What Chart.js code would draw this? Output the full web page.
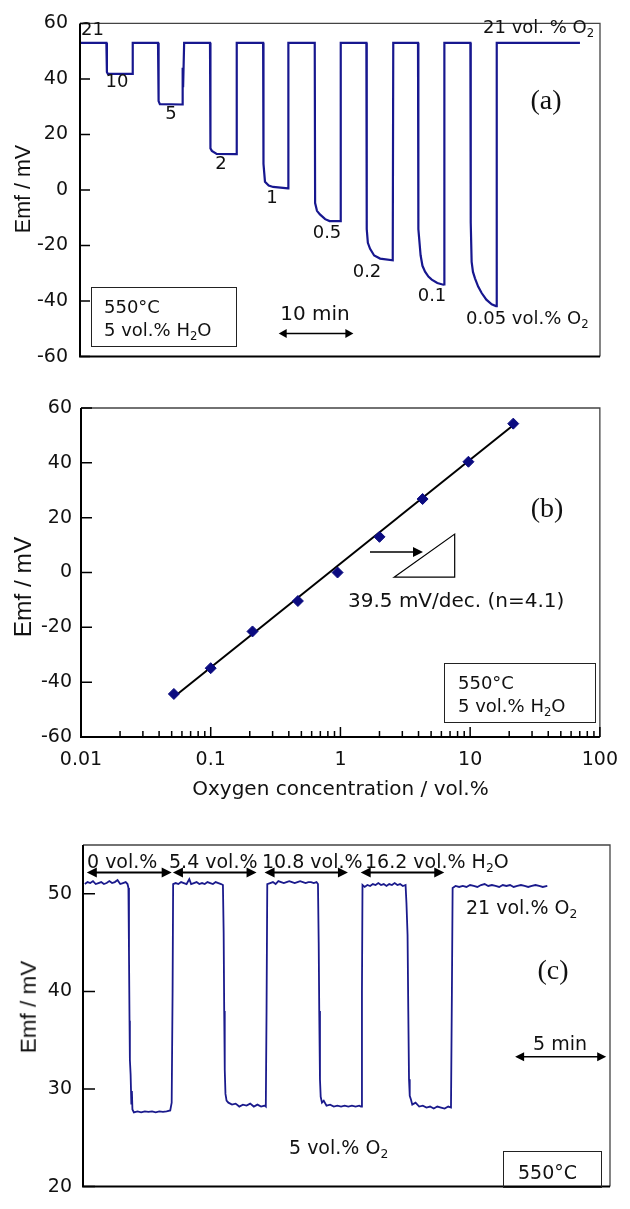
<!DOCTYPE html>
<html lang="en">
<head>
<meta charset="UTF-8">
<title>Emf response of the oxygen sensor</title>
<script src="https://cdn.jsdelivr.net/npm/chart.js"></script>
<style>
  body { margin: 0; background: #fff; }
  #page { position: relative; width: 630px; height: 1209px; overflow: hidden; font-family: 'DejaVu Sans', sans-serif; color: #111; }
  canvas { position: absolute; left: 0; }
  .t { position: absolute; white-space: nowrap; line-height: 1; font-size: 18px; }
  .c { transform: translate(-50%, -50%); }
  .l { transform: translateY(-50%); }
  .ytitle { position: absolute; white-space: nowrap; line-height: 1; font-family: 'Liberation Sans', Arial, sans-serif; transform: translate(-50%, -50%) rotate(-90deg); }
  .tag { font-family: 'Liberation Serif', 'Times New Roman', serif; font-size: 28px; }
  .box { position: absolute; border: 1px solid #222; }
  sub { font-size: 0.65em; position: relative; top: 0.3em; vertical-align: baseline; }
</style>
</head>
<body>
<div id="page">
  <canvas id="chartA" width="630" height="380" style="top:0"></canvas>
  <canvas id="chartB" width="630" height="430" style="top:380px"></canvas>
  <canvas id="chartC" width="630" height="399" style="top:810px"></canvas>

  <!-- panel (a) labels -->
  <div class="ytitle" style="left:24px; top:189px; font-size:21.5px">Emf / mV</div>
  <div class="t l" style="left:81px; top:29px">21</div>
  <div class="t c" style="left:117px; top:81px">10</div>
  <div class="t c" style="left:171px; top:113px">5</div>
  <div class="t c" style="left:221px; top:163px">2</div>
  <div class="t c" style="left:272px; top:197px">1</div>
  <div class="t c" style="left:327px; top:232px">0.5</div>
  <div class="t c" style="left:367px; top:271px">0.2</div>
  <div class="t c" style="left:432px; top:295px">0.1</div>
  <div class="t l" style="left:466px; top:318px">0.05 vol.% O<sub>2</sub></div>
  <div class="t l" style="left:483px; top:27px">21 vol. % O<sub>2</sub></div>
  <div class="t c tag" style="left:546px; top:100px">(a)</div>
  <div class="box" style="left:91px; top:287px; width:144px; height:58px"></div>
  <div class="t l" style="left:104px; top:307px">550°C</div>
  <div class="t l" style="left:104px; top:330px">5 vol.% H<sub>2</sub>O</div>
  <div class="t c" style="left:315px; top:313px; font-size:20px">10 min</div>

  <!-- panel (b) labels -->
  <div class="ytitle" style="left:23px; top:587px; font-size:24.5px">Emf / mV</div>
  <div class="t c tag" style="left:547px; top:508px">(b)</div>
  <div class="t l" style="left:348px; top:600px; font-size:20px">39.5 mV/dec. (n=4.1)</div>
  <div class="box" style="left:444px; top:663px; width:150px; height:58px"></div>
  <div class="t l" style="left:458px; top:683px">550°C</div>
  <div class="t l" style="left:458px; top:706px">5 vol.% H<sub>2</sub>O</div>

  <!-- panel (c) labels -->
  <div class="ytitle" style="left:29px; top:1007px; font-size:22.5px">Emf / mV</div>
  <div class="t l" style="left:87px; top:861px; font-size:19px">0 vol.%</div>
  <div class="t l" style="left:169px; top:861px; font-size:19px">5.4 vol.%</div>
  <div class="t l" style="left:262px; top:861px; font-size:19px">10.8 vol.%</div>
  <div class="t l" style="left:365px; top:861px; font-size:19px">16.2 vol.% H<sub>2</sub>O</div>
  <div class="t l" style="left:466px; top:907px; font-size:19px">21 vol.% O<sub>2</sub></div>
  <div class="t c tag" style="left:553px; top:970px">(c)</div>
  <div class="t c" style="left:560px; top:1043px; font-size:19px">5 min</div>
  <div class="t l" style="left:289px; top:1147px; font-size:19px">5 vol.% O<sub>2</sub></div>
  <div class="box" style="left:503px; top:1151px; width:97px; height:35px"></div>
  <div class="t l" style="left:518px; top:1172px; font-size:19px">550°C</div>
</div>

<script>
// (a) emf vs time (min) while O2 is stepped down from 21 vol.%
const aTime = [0.1, 3.55, 3.62, 3.75, 7.05, 7.1, 10.5, 10.58, 10.75, 13.8, 13.82, 13.88, 14.02,
  17.5, 17.56, 17.75, 18.4, 21.05, 21.1, 24.65, 24.7, 24.9, 25.4, 26.0, 28.0, 28.05,
  31.6, 31.65, 31.9, 32.3, 33.0, 33.6, 35.05, 35.1,
  38.55, 38.6, 38.75, 39.05, 39.6, 40.4, 42.1, 42.17,
  45.5, 45.55, 45.85, 46.1, 46.45, 46.9, 47.35, 48.1, 48.9, 49.02, 49.05,
  52.55, 52.6, 52.72, 52.9, 53.17, 53.6, 54.07, 54.7, 55.42, 56.0, 56.08, 56.12, 67.3];
const aEmf = [53, 53, 42.5, 41.8, 41.8, 53, 53, 32, 30.9, 30.8, 44, 37, 53,
  53, 15, 14.1, 13.0, 12.9, 53, 53, 9.4, 3.0, 1.6, 1.1, 0.6, 53,
  53, -4.7, -7.5, -8.8, -10.5, -11.2, -11.2, 53,
  53, -14.1, -19, -21.2, -23.6, -24.7, -25.3, 53,
  53, -14.1, -23.5, -27.3, -29.4, -31.2, -32.3, -33.5, -34.1, -34.0, 53,
  53, -11.8, -25.9, -29.5, -31.8, -34.8, -37.1, -39.5, -41.2, -41.8, -35.5, 53, 53];
const aYTicks = [-60, -40, -20, 0, 20, 40, 60];

// (b) emf vs oxygen concentration, with the fitted line
const bConc = [0.052, 0.1, 0.21, 0.47, 0.95, 2.0, 4.3, 9.7, 21.5];
const bEmf = [-44.3, -34.9, -21.5, -10.4, 0, 13.0, 26.8, 40.4, 54.3];
const bFitConc = [0.054, 21.7];
const bFitEmf = [-44.8, 53.9];
const bYTicks = [-60, -40, -20, 0, 20, 40, 60];
const bMajor = [0.01, 0.1, 1, 10, 100];
const bMajorLabels = ['0.01', '0.1', '1', '10', '100'];

// (c) emf vs time (min), 21 <-> 5 vol.% O2 at several H2O levels
const cTime = [0.1, 0.25, 0.4, 0.55, 0.7, 0.85, 1.0, 1.15, 1.3, 1.45, 1.6, 1.75, 1.9, 2.05, 2.2, 2.35, 2.45,
  2.5, 2.53, 2.56, 2.58, 2.62, 2.66, 2.69, 2.72, 2.8,
  3.0, 3.2, 3.4, 3.6, 3.8, 4.0, 4.2, 4.4, 4.6, 4.8, 4.88, 4.93, 4.96,
  5.1, 5.25, 5.4, 5.55, 5.7, 5.85, 5.95, 6.1, 6.25, 6.4, 6.55, 6.7, 6.85, 7.0, 7.15, 7.3, 7.45, 7.6, 7.7,
  7.74, 7.77, 7.8, 7.84, 7.9, 8.0,
  8.2, 8.4, 8.6, 8.8, 9.0, 9.2, 9.4, 9.6, 9.8, 10.0, 10.06, 10.1, 10.14,
  10.3, 10.45, 10.6, 10.75, 10.9, 11.05, 11.2, 11.35, 11.5, 11.65, 11.8, 11.95, 12.1, 12.25, 12.4, 12.55, 12.7, 12.85, 12.93,
  12.97, 13.0, 13.04, 13.08, 13.15, 13.25,
  13.4, 13.6, 13.8, 14.0, 14.2, 14.4, 14.6, 14.8, 15.0, 15.2, 15.3, 15.35, 15.38,
  15.5, 15.65, 15.8, 15.95, 16.1, 16.25, 16.4, 16.55, 16.7, 16.85, 17.0, 17.15, 17.3, 17.45, 17.6, 17.75,
  17.8, 17.86, 17.9, 17.94, 17.98, 18.05, 18.12,
  18.3, 18.5, 18.7, 18.9, 19.1, 19.3, 19.5, 19.7, 19.9, 20.1, 20.25, 20.3, 20.34,
  20.5, 20.7, 20.9, 21.1, 21.3, 21.5, 21.7, 21.9, 22.1, 22.3, 22.5, 22.7, 22.9, 23.1, 23.3, 23.5, 23.7, 23.9,
  24.1, 24.3, 24.5, 24.7, 24.9, 25.1, 25.3, 25.55];
const cEmf = [51.0, 51.2, 51.1, 51.3, 51.0, 51.1, 51.2, 51.0, 51.1, 51.3, 51.1, 51.2, 51.4, 51.0, 51.1, 51.2, 51.0,
  50.6, 44, 37, 33, 31.5, 28.5, 29.8, 27.9, 27.6,
  27.7, 27.6, 27.7, 27.65, 27.7, 27.6, 27.7, 27.65, 27.7, 27.8, 28.6, 40, 51.0,
  51.1, 51.0, 51.2, 51.1, 51.0, 51.5, 51.0, 51.1, 51.2, 51.0, 51.1, 51.0, 51.2, 51.1, 51.0, 51.2, 51.1, 51.0, 50.9,
  46, 38, 32, 29.5, 28.8, 28.6,
  28.4, 28.5, 28.2, 28.4, 28.3, 28.5, 28.2, 28.4, 28.2, 28.3, 28.2, 38, 51.0,
  51.1, 51.2, 51.0, 51.3, 51.2, 51.1, 51.2, 51.3, 51.2, 51.1, 51.2, 51.3, 51.2, 51.1, 51.2, 51.2, 51.1, 51.2, 51.0,
  45, 38, 31, 29.2, 28.6, 28.8,
  28.3, 28.4, 28.2, 28.3, 28.2, 28.3, 28.2, 28.3, 28.2, 28.3, 28.2, 40, 50.9,
  50.7, 50.9, 50.8, 51.0, 50.9, 51.1, 50.9, 51.0, 50.8, 51.0, 50.9, 51.1, 50.9, 51.0, 50.8, 50.9,
  49, 45.8, 38, 31, 29.3, 28.9, 28.4,
  28.6, 28.2, 28.3, 28.1, 28.2, 28.0, 28.2, 28.1, 28.0, 28.2, 28.1, 40, 50.6,
  50.8, 50.7, 50.8, 50.7, 50.9, 50.8, 50.7, 50.9, 51.0, 50.8, 50.9, 50.8, 50.7, 50.9, 50.8, 50.9, 50.7, 50.8,
  50.9, 50.8, 50.7, 50.8, 50.9, 50.8, 50.7, 50.8];
const cYTicks = [20, 30, 40, 50];

const tickFont = { family: 'DejaVu Sans', size: 19 };

// frame, inward ticks, arrows and the slope triangle
const framePlugin = {
  id: 'frame',
  afterDatasetsDraw(chart, args, opts) {
    const { ctx, chartArea: a, scales } = chart;
    const x = scales.x, y = scales.y;
    ctx.save();
    ctx.lineCap = 'butt';
    ctx.strokeStyle = '#444';
    ctx.lineWidth = 1.3;
    ctx.beginPath();
    ctx.moveTo(a.left, a.top); ctx.lineTo(a.right, a.top); ctx.lineTo(a.right, a.bottom);
    ctx.stroke();
    ctx.strokeStyle = '#000';
    ctx.lineWidth = 2;
    ctx.beginPath();
    ctx.moveTo(a.left, a.top); ctx.lineTo(a.left, a.bottom); ctx.lineTo(a.right, a.bottom);
    ctx.stroke();

    ctx.lineWidth = 1.5;
    ctx.beginPath();
    y.ticks.forEach(t => {
      const py = y.getPixelForValue(t.value);
      ctx.moveTo(a.left, py); ctx.lineTo(a.left + opts.tick, py);
    });
    if (opts.xTicks) {
      x.ticks.forEach(t => {
        const px = x.getPixelForValue(t.value);
        const len = bMajor.includes(t.value) ? 10 : 6;
        ctx.moveTo(px, a.bottom); ctx.lineTo(px, a.bottom - len);
      });
    }
    ctx.stroke();

    ctx.fillStyle = '#000';
    (opts.arrows || []).forEach(ar => {
      const x1 = x.getPixelForValue(ar.from), x2 = x.getPixelForValue(ar.to);
      const py = y.getPixelForValue(ar.y);
      const h = ar.head, w = ar.half;
      ctx.lineWidth = ar.width;
      ctx.beginPath();
      ctx.moveTo(ar.both ? x1 + h * 0.7 : x1, py); ctx.lineTo(x2 - h * 0.7, py);
      ctx.stroke();
      ctx.beginPath();
      ctx.moveTo(x2, py); ctx.lineTo(x2 - h, py - w); ctx.lineTo(x2 - h, py + w); ctx.closePath();
      ctx.fill();
      if (ar.both) {
        ctx.beginPath();
        ctx.moveTo(x1, py); ctx.lineTo(x1 + h, py - w); ctx.lineTo(x1 + h, py + w); ctx.closePath();
        ctx.fill();
      }
    });

    if (opts.tri) {
      ctx.lineWidth = 1.2;
      ctx.beginPath();
      opts.tri.forEach((p, i) => {
        const px = x.getPixelForValue(p[0]), py = y.getPixelForValue(p[1]);
        if (i === 0) ctx.moveTo(px, py); else ctx.lineTo(px, py);
      });
      ctx.closePath();
      ctx.stroke();
    }
    ctx.restore();
  }
};

function yAxis(min, max, ticks, width, pad) {
  return {
    min: min,
    max: max,
    afterBuildTicks: s => { s.ticks = ticks.map(v => ({ value: v })); },
    afterFit: s => { s.width = width; },
    grid: { display: false, drawTicks: false },
    border: { display: false },
    ticks: { color: '#111', padding: pad, font: tickFont }
  };
}

const baseOpts = {
  responsive: false,
  animation: false,
  devicePixelRatio: 1,
  events: []
};

new Chart(document.getElementById('chartA'), {
  type: 'line',
  data: {
    datasets: [{
      data: aTime.map((t, i) => ({ x: t, y: aEmf[i] })),
      borderColor: '#17178f',
      borderWidth: 2.2,
      pointRadius: 0,
      tension: 0
    }]
  },
  options: Object.assign({}, baseOpts, {
    layout: { padding: { left: 0, right: 30, top: 15, bottom: 23 } },
    plugins: {
      legend: { display: false },
      tooltip: { enabled: false },
      frame: { tick: 10, arrows: [{ from: 26.75, to: 36.8, y: -51.7, both: true, head: 8, half: 4.5, width: 1.5 }] }
    },
    scales: {
      x: { type: 'linear', min: 0, max: 70, display: false },
      y: yAxis(-60, 60, aYTicks, 80, 12)
    }
  }),
  plugins: [framePlugin]
});

const bXTicks = [];
bMajor.forEach((d, i) => {
  if (i === bMajor.length - 1) { bXTicks.push(d); return; }
  for (let k = 1; k <= 9; k++) bXTicks.push(k === 1 ? d : k * d);
});

new Chart(document.getElementById('chartB'), {
  type: 'scatter',
  data: {
    datasets: [{
      data: bConc.map((c, i) => ({ x: c, y: bEmf[i] })),
      pointStyle: 'rectRot',
      pointRadius: 5.5,
      backgroundColor: '#0b0b80',
      borderColor: '#0b0b80',
      order: 1
    }, {
      type: 'line',
      data: bFitConc.map((c, i) => ({ x: c, y: bFitEmf[i] })),
      borderColor: '#000',
      borderWidth: 2,
      pointRadius: 0,
      order: 2
    }]
  },
  options: Object.assign({}, baseOpts, {
    layout: { padding: { left: 0, right: 27, top: 28, bottom: 0 } },
    plugins: {
      legend: { display: false },
      tooltip: { enabled: false },
      frame: {
        tick: 11,
        xTicks: true,
        arrows: [{ from: 1.69, to: 4.33, y: 7.5, both: false, head: 10, half: 5, width: 1.5 }],
        tri: [[2.59, -1.7], [7.6, 14.0], [7.6, -1.7]]
      }
    },
    scales: {
      x: {
        type: 'logarithmic',
        min: 0.01,
        max: 100,
        afterBuildTicks: s => { s.ticks = bXTicks.map(v => ({ value: v })); },
        afterFit: s => { s.height = 73; },
        grid: { display: false, drawTicks: false },
        border: { display: false },
        ticks: {
          autoSkip: false,
          maxRotation: 0,
          padding: 12,
          color: '#111',
          font: tickFont,
          callback: v => { const i = bMajor.indexOf(v); return i < 0 ? '' : bMajorLabels[i]; }
        },
        title: {
          display: true,
          text: 'Oxygen concentration / vol.%',
          color: '#111',
          font: { family: 'DejaVu Sans', size: 20 },
          padding: { top: 0, bottom: 8 }
        }
      },
      y: yAxis(-60, 60, bYTicks, 81, 9)
    }
  }),
  plugins: [framePlugin]
});

new Chart(document.getElementById('chartC'), {
  type: 'line',
  data: {
    datasets: [{
      data: cTime.map((t, i) => ({ x: t, y: cEmf[i] })),
      borderColor: '#1a1a8c',
      borderWidth: 1.8,
      pointRadius: 0,
      tension: 0
    }]
  },
  options: Object.assign({}, baseOpts, {
    layout: { padding: { left: 0, right: 20, top: 35, bottom: 14 } },
    plugins: {
      legend: { display: false },
      tooltip: { enabled: false },
      frame: {
        tick: 12,
        arrows: [
          { from: 0.21, to: 4.88, y: 52.17, both: true, head: 10, half: 5, width: 2 },
          { from: 4.95, to: 9.55, y: 52.17, both: true, head: 10, half: 5, width: 2 },
          { from: 9.99, to: 14.58, y: 52.17, both: true, head: 10, half: 5, width: 2 },
          { from: 15.28, to: 19.88, y: 52.17, both: true, head: 10, half: 5, width: 2 },
          { from: 23.78, to: 28.79, y: 33.3, both: true, head: 9, half: 4.5, width: 1.5 }
        ]
      }
    },
    scales: {
      x: { type: 'linear', min: 0, max: 29, display: false },
      y: yAxis(20, 55, cYTicks, 83, 11)
    }
  }),
  plugins: [framePlugin]
});
</script>
</body>
</html>
